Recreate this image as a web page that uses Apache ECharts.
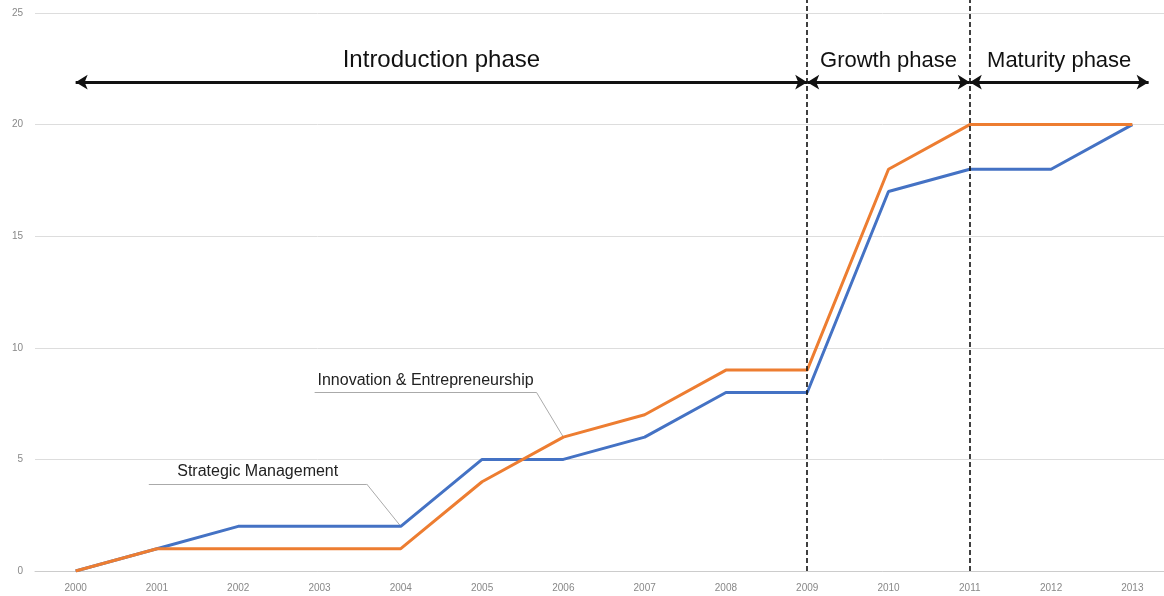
<!DOCTYPE html>
<html>
<head>
<meta charset="utf-8">
<script src="https://cdn.jsdelivr.net/npm/echarts@6/dist/echarts.min.js"></script>
<style>
  html, body { margin: 0; padding: 0; background: #fff; }
  #main { width: 1164px; height: 596px; }
</style>
</head>
<body>
<div id="main"></div>
<script>
// data
var years = ['2000', '2001', '2002', '2003', '2004', '2005', '2006', '2007', '2008', '2009', '2010', '2011', '2012', '2013'];
var strategicMgmt = [0, 1, 2, 2, 2, 5, 5, 6, 8, 8, 17, 18, 18, 20];
var innovEntre = [0, 1, 1, 1, 1, 4, 6, 7, 9, 9, 18, 20, 20, 20];

// phases (in category index units)
var phaseNames = ['Introduction phase', 'Growth phase', 'Maturity phase'];
var phaseStart = [0, 9, 11];
var phaseEnd = [9, 11, 13.2];
var phaseFont = [24, 22, 22];
var phaseLevel = 21.9;
var dividers = [9, 11];

// callouts: label line from..to, then leader to the point
var calloutNames = ['Strategic Management', 'Innovation & Entrepreneurship'];
var calloutFrom = [[0.9, 3.9], [2.94, 8.0]];
var calloutTo = [[3.58, 3.9], [5.67, 8.0]];
var calloutTarget = [[4, 2], [6, 6]];

var myChart = echarts.init(document.getElementById('main'));

var phaseLines = phaseNames.map(function (name, i) {
  return [
    { coord: [phaseStart[i], phaseLevel], name: name,
      label: { fontSize: phaseFont[i] } },
    { coord: [phaseEnd[i], phaseLevel] }
  ];
});
// dividers live on a second, taller grid so they reach the top edge
var dividerLines = dividers.map(function (d) {
  return [{ coord: [d, 0] }, { coord: [d, 1] }];
});

var calloutSeries = calloutNames.map(function (name, i) {
  return {
    type: 'line',
    xAxisIndex: 1,
    clip: false,
    silent: true,
    symbol: 'none',
    z: 1,
    lineStyle: { color: '#aaa', width: 1 },
    data: [calloutTo[i], calloutTarget[i]],
    markLine: {
      silent: true,
      symbol: 'none',
      animation: false,
      lineStyle: { color: '#aaa', width: 1, type: 'solid' },
      label: {
        show: true, position: 'middle', formatter: '{b}',
        color: '#222', fontSize: 16, distance: 4,
        fontFamily: 'Liberation Sans'
      },
      data: [[{ coord: calloutFrom[i], name: name }, { coord: calloutTo[i] }]]
    }
  };
});

myChart.setOption({
  animation: false,
  textStyle: { fontFamily: 'Liberation Sans' },
  grid: [
    { left: 35, top: 13, width: 1138, bottom: 25, outerBoundsMode: 'none' },
    { left: 35, top: 0, width: 1138, bottom: 25, outerBoundsMode: 'none' }
  ],
  xAxis: [{
    type: 'category',
    data: years,
    boundaryGap: true,
    axisLine: { lineStyle: { color: '#ccc' } },
    axisTick: { show: false },
    axisLabel: { color: '#888', fontSize: 10, margin: 12 }
  }, {
    type: 'value', min: -0.5, max: 13.5, show: false
  }, {
    type: 'value', gridIndex: 1, min: -0.5, max: 13.5, show: false
  }],
  yAxis: [{
    type: 'value',
    min: 0,
    max: 25,
    interval: 5,
    axisLine: { show: false },
    axisTick: { show: false },
    splitLine: { lineStyle: { color: '#ddd' } },
    axisLabel: { color: '#888', fontSize: 10, margin: 12 }
  }, {
    type: 'value', gridIndex: 1, min: 0, max: 1, show: false
  }],
  color: ['#4472c4', '#ed7d31'],
  series: [{
    name: 'Strategic Management',
    type: 'line',
    data: strategicMgmt,
    symbol: 'none',
    lineStyle: { width: 3 },
    z: 3
  }, {
    name: 'Innovation & Entrepreneurship',
    type: 'line',
    data: innovEntre,
    symbol: 'none',
    lineStyle: { width: 3 },
    z: 4
  }, {
    // phase arrows
    type: 'line',
    xAxisIndex: 1,
    clip: false,
    silent: true,
    data: [],
    markLine: {
      silent: true,
      animation: false,
      symbol: ['arrow', 'arrow'],
      symbolSize: [11, 12],
      lineStyle: { color: '#111', width: 3, type: 'solid' },
      label: {
        show: true, position: 'middle', formatter: '{b}',
        color: '#111', distance: 10,
        fontFamily: 'Liberation Sans'
      },
      data: phaseLines
    },
    z: 5
  }, {
    // dashed phase dividers
    type: 'line',
    xAxisIndex: 2,
    yAxisIndex: 1,
    silent: true,
    data: [],
    markLine: {
      silent: true,
      animation: false,
      symbol: 'none',
      lineStyle: { color: '#111', width: 1.6, type: [5, 3] },
      label: { show: false },
      data: dividerLines
    },
    z: 6
  }].concat(calloutSeries)
});
</script>
</body>
</html>
